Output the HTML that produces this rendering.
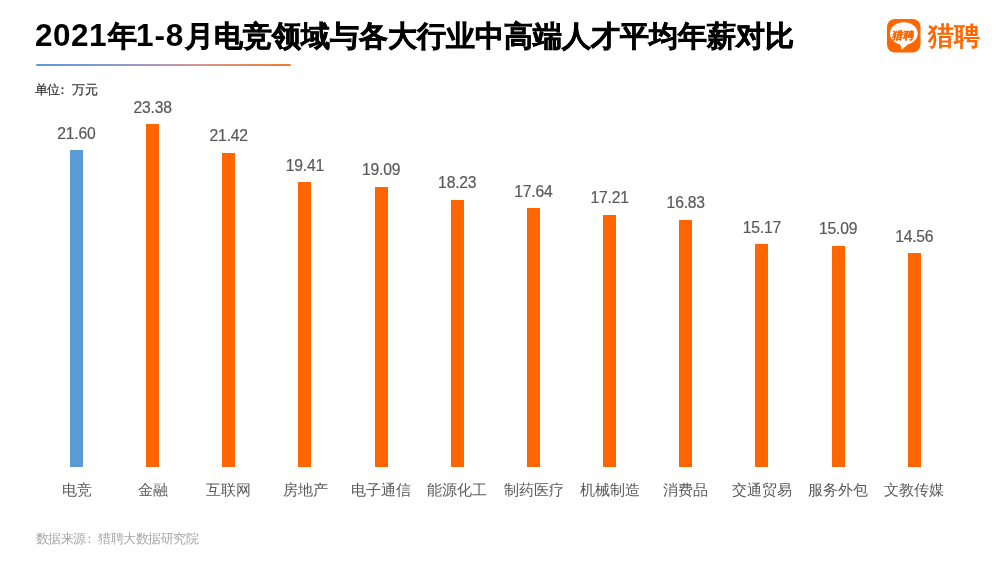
<!DOCTYPE html>
<html><head><meta charset="utf-8">
<style>
html,body{margin:0;padding:0;background:#fff;}
body{width:1000px;height:563px;position:relative;overflow:hidden;font-family:"Liberation Sans",sans-serif;}
#w{position:absolute;left:0;top:0;width:1000px;height:563px;will-change:transform;}
.t{position:absolute;font-weight:bold;color:#000;white-space:nowrap;}
.td{font-size:31.5px;line-height:31.5px;top:19.6px;}
.tc{font-size:29px;line-height:29px;top:22.2px;-webkit-text-stroke:0.6px #000;}
.uline{position:absolute;left:35.5px;top:63.5px;width:255.5px;height:2.3px;border-radius:1.2px;background:linear-gradient(90deg,#5B9BD5 0%,#7E9CCD 25%,#A99AC0 45%,#D8948E 65%,#ED7D31 100%);}
.unit{position:absolute;left:34.5px;top:82.5px;font-size:13px;line-height:13px;letter-spacing:-0.4px;color:#333;-webkit-text-stroke:0.2px #333;white-space:nowrap;}
.src{position:absolute;left:35.5px;top:532px;font-size:13px;line-height:13px;letter-spacing:-0.5px;color:#A6A6A6;white-space:nowrap;}
.bar{position:absolute;width:13px;}
.val{position:absolute;width:100px;text-align:center;font-size:15.7px;line-height:15.7px;letter-spacing:-0.2px;color:#595959;-webkit-text-stroke:0.2px #595959;}
.cat{position:absolute;top:481.5px;width:100px;text-align:center;font-size:15px;line-height:15px;color:#595959;white-space:nowrap;}
.logo{position:absolute;left:887px;top:19px;width:33.5px;height:33.5px;}
.logotxt{position:absolute;left:928.3px;top:23.3px;font-size:26px;line-height:26px;font-weight:bold;color:#FF6600;white-space:nowrap;}
</style></head><body><div id="w">
<div class="t td" style="left:35px;letter-spacing:0.5px">2021</div>
<div class="t tc" style="left:108px">年</div>
<div class="t td" style="left:136.1px;letter-spacing:0.8px">1-8</div>
<div class="t tc" style="left:185.2px">月电竞领域与各大行业中高端人才平均年薪对比</div>
<div class="uline"></div>
<div class="unit">单位<span style="position:relative;left:-3.5px">：</span>万元</div>
<div class="bar" style="left:70px;top:150px;height:317px;background:#5B9BD5"></div>
<div class="val" style="left:26.40px;top:125.64px">21.60</div>
<div class="cat" style="left:26.50px">电竞</div>
<div class="bar" style="left:146px;top:124px;height:343px;background:#FF6600"></div>
<div class="val" style="left:102.57px;top:99.59px">23.38</div>
<div class="cat" style="left:102.67px">金融</div>
<div class="bar" style="left:222px;top:153px;height:314px;background:#FF6600"></div>
<div class="val" style="left:178.74px;top:128.28px">21.42</div>
<div class="cat" style="left:178.84px">互联网</div>
<div class="bar" style="left:298px;top:182px;height:285px;background:#FF6600"></div>
<div class="val" style="left:254.91px;top:157.70px">19.41</div>
<div class="cat" style="left:255.01px">房地产</div>
<div class="bar" style="left:375px;top:187px;height:280px;background:#FF6600"></div>
<div class="val" style="left:331.08px;top:162.38px">19.09</div>
<div class="cat" style="left:331.18px">电子通信</div>
<div class="bar" style="left:451px;top:200px;height:267px;background:#FF6600"></div>
<div class="val" style="left:407.25px;top:174.97px">18.23</div>
<div class="cat" style="left:407.35px">能源化工</div>
<div class="bar" style="left:527px;top:208px;height:259px;background:#FF6600"></div>
<div class="val" style="left:483.42px;top:183.60px">17.64</div>
<div class="cat" style="left:483.52px">制药医疗</div>
<div class="bar" style="left:603px;top:215px;height:252px;background:#FF6600"></div>
<div class="val" style="left:559.59px;top:189.90px">17.21</div>
<div class="cat" style="left:559.69px">机械制造</div>
<div class="bar" style="left:679px;top:220px;height:247px;background:#FF6600"></div>
<div class="val" style="left:635.76px;top:195.46px">16.83</div>
<div class="cat" style="left:635.86px">消费品</div>
<div class="bar" style="left:755px;top:244px;height:223px;background:#FF6600"></div>
<div class="val" style="left:711.93px;top:219.76px">15.17</div>
<div class="cat" style="left:712.03px">交通贸易</div>
<div class="bar" style="left:832px;top:246px;height:221px;background:#FF6600"></div>
<div class="val" style="left:788.10px;top:220.93px">15.09</div>
<div class="cat" style="left:788.20px">服务外包</div>
<div class="bar" style="left:908px;top:253px;height:214px;background:#FF6600"></div>
<div class="val" style="left:864.27px;top:228.69px">14.56</div>
<div class="cat" style="left:864.37px">文教传媒</div>
<div class="src">数据来源<span style="position:relative;left:-3px">：</span>猎聘大数据研究院</div>
<svg class="logo" viewBox="0 0 33.5 33.5">
<rect x="0" y="0" width="33.5" height="33.5" rx="8" fill="#FF6600"/>
<ellipse cx="16.85" cy="14.5" rx="13.9" ry="11.3" fill="#fff"/>
<path d="M12.8 23.5 L14.7 30.8 L22 24.5 Z" fill="#fff"/>
<text x="16.4" y="19.6" text-anchor="middle" font-size="10.5" font-weight="bold" fill="#FF6600" stroke="#FF6600" stroke-width="0.35" transform="skewX(-10) translate(3.4,0)" font-family="Liberation Sans, sans-serif">猎聘</text>
</svg>
<div class="logotxt">猎聘</div>
</div></body></html>
